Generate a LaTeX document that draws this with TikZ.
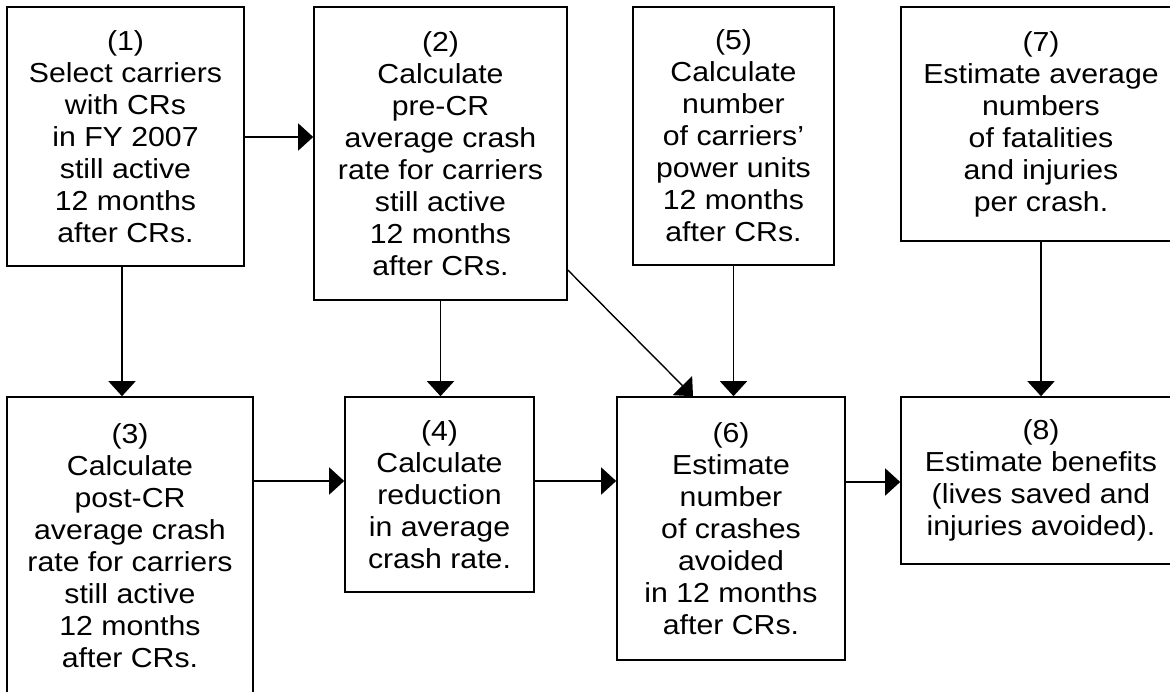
\documentclass[tikz,border=0pt]{standalone}
\usepackage{fontspec}
\setmainfont{Liberation Sans}[FakeStretch=1.1]
\usetikzlibrary{arrows.meta}
\begin{document}
\begin{tikzpicture}[x=1pt,y=-1pt,
  box/.style={draw, line width=1.6pt, inner sep=0pt, align=center,
    font=\fontsize{27.5}{32}\selectfont},
  arr/.style={line width=1.4pt, -{Triangle[length=15pt,width=27pt]}}]
\useasboundingbox (0,0) rectangle (1170,691);

\node[box, minimum width=237pt, minimum height=259pt] (b1) at (125.5,136.5)
  {(1)\\Select carriers\\with CRs\\in FY 2007\\still active\\12 months\\after CRs.};
\node[box, minimum width=253pt, minimum height=293pt] (b2) at (440.5,153.5)
  {(2)\\Calculate\\pre-CR\\average crash\\rate for carriers\\still active\\12 months\\after CRs.};
\node[box, minimum width=201pt, minimum height=258pt] (b5) at (733.5,136)
  {(5)\\Calculate\\number\\of carriers’\\power units\\12 months\\after CRs.};
\node[box, minimum width=280pt, minimum height=234pt] (b7) at (1041,124)
  {(7)\\Estimate average\\numbers\\of fatalities\\and injuries\\per crash.};
\node[box, minimum width=246pt, minimum height=298pt] (b3) at (130,546)
  {(3)\\Calculate\\post-CR\\average crash\\rate for carriers\\still active\\12 months\\after CRs.};
\node[box, minimum width=189pt, minimum height=195pt] (b4) at (439.5,494.5)
  {(4)\\Calculate\\reduction\\in average\\crash rate.};
\node[box, minimum width=228pt, minimum height=263pt] (b6) at (731,528.5)
  {(6)\\Estimate\\number\\of crashes\\avoided\\in 12 months\\after CRs.};
\node[box, minimum width=280pt, minimum height=167pt] (b8) at (1041,480.5)
  {(8)\\Estimate benefits\\(lives saved and\\injuries avoided).};

\coordinate (a13) at ([xshift=-3.5pt]b1.south);
\coordinate (a26s) at (b2.east |- 0,270);
\coordinate (a26e) at ([xshift=-38pt]b6.north);

\draw[arr] (b1.east |- 0,137) -- (b2.west |- 0,137);
\draw[arr] (a13) -- (a13 |- b3.north);
\draw[arr] (b2.south) -- (b2.south |- b4.north);
\draw[arr] (a26s) -- (a26e);
\draw[arr] (b5.south) -- (b5.south |- b6.north);
\draw[arr] (b7.south) -- (b7.south |- b8.north);
\draw[arr] (b3.east |- 0,481) -- (b4.west |- 0,481);
\draw[arr] (b4.east |- 0,481) -- (b6.west |- 0,481);
\draw[arr] (b6.east |- 0,482) -- (b8.west |- 0,482);
\end{tikzpicture}
\end{document}
